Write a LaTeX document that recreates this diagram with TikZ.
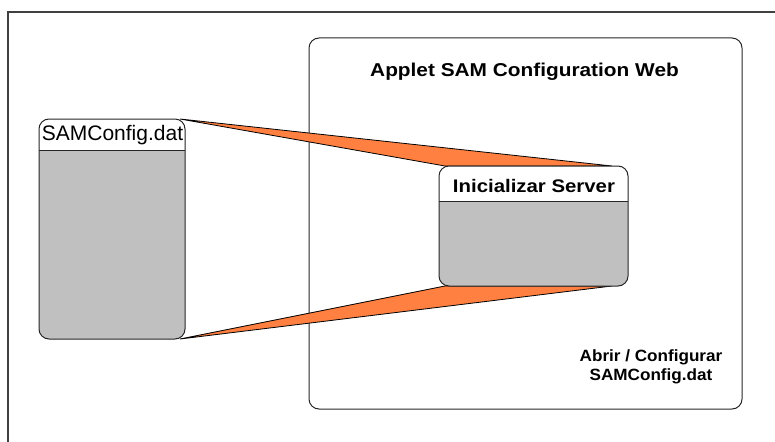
\documentclass[tikz,border=0pt]{standalone}
\usepackage{fontspec}
\setmainfont{Liberation Sans}
\newfontfamily\widesans[FakeStretch=1.12]{Liberation Sans}
\newfontfamily\midsans[FakeStretch=1.05]{Liberation Sans}
\definecolor{wedge}{RGB}{255,128,64}
\definecolor{panel}{RGB}{192,192,192}
\definecolor{frameline}{RGB}{64,64,64}
\begin{document}
\begin{tikzpicture}[x=1pt,y=-1pt,
  card/.style={fill=panel, inner sep=0pt, outer sep=0pt},
  outline/.style={draw=black!85, line width=1pt, rounded corners=10pt},
  flow/.style={fill=wedge, draw=black, line width=0.8pt, line join=miter},
  label/.style={inner sep=0pt, anchor=base}]
\useasboundingbox (0,0) rectangle (775,441);

% outer sheet border (only its top and left edges lie inside the page)
\draw[frameline, line width=1.3pt] (8,450) -- (8,12) -- (790,12);

% applet container
\node[minimum width=433pt, minimum height=371pt, inner sep=0pt,
      draw=black!85, line width=1pt, rounded corners=10pt] (applet) at (525.5,223.5) {};
\node[label, font=\widesans\bfseries\fontsize{18.6}{22}\selectfont] (title) at (524.5,76.5) {Applet SAM Configuration Web};
\node[label, font=\midsans\bfseries\fontsize{16.3}{19.6}\selectfont, align=center, anchor=north] (note)
  at (651,349) {Abrir / Configurar\\SAMConfig.dat};

% box geometry (placed first so the wedges can start from their anchors)
\path node[card, minimum width=146pt, minimum height=220pt, fill=none] (sam) at (112,229) {};
\path node[card, minimum width=189pt, minimum height=120pt, fill=none] (init) at (533.5,226) {};

% orange wedges joining the file to the server step
\draw[flow] ([xshift=-5pt]sam.north east) -- ([xshift=-16pt]init.north east) -- ([xshift=6pt]init.north west) -- cycle;
\draw[flow] ([xshift=-5pt]sam.south east) -- ([xshift=-16pt]init.south east) -- ([xshift=6pt]init.south west) -- cycle;

% SAMConfig.dat card
\fill[panel, rounded corners=10pt] (sam.south west) rectangle (sam.north east);
\begin{scope}
  \clip (sam.north west) rectangle ([yshift=-31pt]sam.north east);
  \fill[white, rounded corners=10pt] (sam.south west) rectangle (sam.north east);
\end{scope}
\draw[black!85, line width=1pt] ([yshift=-31pt]sam.north west) -- ([yshift=-31pt]sam.north east);
\draw[outline] (sam.south west) rectangle (sam.north east);
\node[label, font=\fontsize{21}{25}\selectfont] (samtext) at (112.5,140) {SAMConfig.dat};

% Inicializar Server card
\fill[panel, rounded corners=10pt] (init.south west) rectangle (init.north east);
\begin{scope}
  \clip (init.north west) rectangle ([yshift=-35pt]init.north east);
  \fill[white, rounded corners=10pt] (init.south west) rectangle (init.north east);
\end{scope}
\draw[black!85, line width=1pt] ([yshift=-35pt]init.north west) -- ([yshift=-35pt]init.north east);
\draw[outline] (init.south west) rectangle (init.north east);
\node[label, font=\widesans\bfseries\fontsize{18.2}{22}\selectfont] (inittext) at (534,192.3) {Inicializar Server};
\end{tikzpicture}
\end{document}
